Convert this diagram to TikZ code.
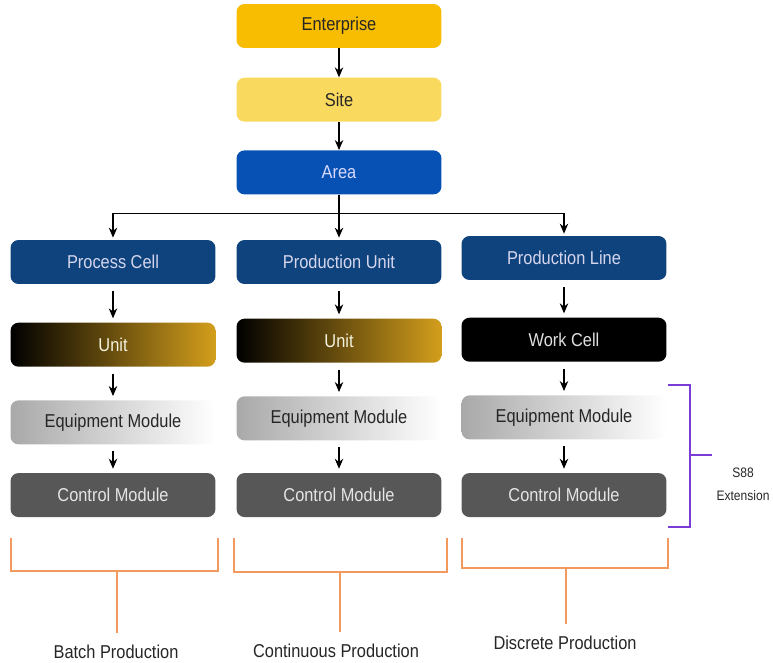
\documentclass[tikz,border=0pt]{standalone}
\usepackage{fontspec}
\setmainfont{Liberation Sans}[FakeStretch=0.88]
\usepackage{tikz}
\usetikzlibrary{arrows.meta, positioning, calc}
\definecolor{entgold}{HTML}{F8BC00}
\definecolor{siteyellow}{HTML}{FADA5E}
\definecolor{areablue}{HTML}{0651B3}
\definecolor{cellblue}{HTML}{0E437E}
\definecolor{unitgold}{HTML}{D39E1C}
\definecolor{eqgray}{HTML}{A9A9A9}
\definecolor{ctrlgray}{HTML}{575757}
\definecolor{brkorange}{HTML}{F29A5E}
\definecolor{s88purple}{HTML}{7A3BD6}

\begin{document}
\begin{tikzpicture}[
  x=0.02cm, y=-0.02cm,
  node distance=0.58cm,
  lvl/.style={rectangle, rounded corners=0.16cm, inner sep=0pt,
    minimum width=4.1cm, minimum height=0.88cm, align=center,
    font=\fontsize{10.6}{12}\selectfont},
  entbox/.style={lvl, fill=entgold, text=black!85},
  sitebox/.style={lvl, fill=siteyellow, text=black!85},
  areabox/.style={lvl, fill=areablue, text=blue!15},
  cellbox/.style={lvl, fill=cellblue, text=blue!10!white!85!gray},
  unitbox/.style={lvl, left color=black, right color=unitgold, text=yellow!10!white!90!gray},
  wcbox/.style={lvl, fill=black, text=white!88!black},
  eqbox/.style={lvl, left color=eqgray, right color=white, text=black!85},
  ctrlbox/.style={lvl, fill=ctrlgray, text=white!90!black},
  arr/.style={-{Stealth[length=2mm, width=1.7mm]}, semithick},
  colarr/.style={arr, shorten <=0.13cm, shorten >=0.08cm},
  brk/.style={draw=brkorange, line width=1.3pt},
  s88line/.style={draw=s88purple, line width=0.9pt},
  lbl/.style={font=\fontsize{10.6}{12}\selectfont, text=black!85, inner sep=0pt},
]
  \useasboundingbox (0,0) rectangle (773,662);

  % Top chain
  \node[entbox] (ent) at (339,26) {Enterprise};
  \node[sitebox, below=of ent] (site) {Site};
  \node[areabox, below=0.56cm of site] (area) {Area};

  \draw[arr] (ent) -- (site);
  \draw[arr] (site) -- (area);

  % Columns
  \node[cellbox] (pcell) at (113,262) {Process Cell};
  \node[cellbox] (punit) at (339,262) {Production Unit};
  \node[cellbox] (pline) at (564,258) {Production Line};

  \draw[arr] (area.south) -- ++(0,19) -| ([yshift=0.04cm]pcell.north);
  \draw[arr] (area.south) -- ([yshift=0.04cm]punit.north);
  \draw[arr] (area.south) -- ++(0,19) -| ([yshift=0.04cm]pline.north);

  % Batch column
  \node[unitbox, below=0.76cm of pcell] (unitA) {Unit};
  \node[eqbox, below=0.66cm of unitA] (eqA) {Equipment Module};
  \node[ctrlbox, below=0.56cm of eqA] (ctrlA) {Control Module};

  % Continuous column
  \node[unitbox, below=0.68cm of punit] (unitB) {Unit};
  \node[eqbox, below=0.66cm of unitB] (eqB) {Equipment Module};
  \node[ctrlbox, below=0.64cm of eqB] (ctrlB) {Control Module};

  % Discrete column
  \node[wcbox, below=0.74cm of pline] (wcell) {Work Cell};
  \node[eqbox, below=0.66cm of wcell] (eqC) {Equipment Module};
  \node[ctrlbox, below=0.66cm of eqC] (ctrlC) {Control Module};

  \draw[colarr] (pcell) -- (unitA);
  \draw[colarr] (unitA) -- (eqA);
  \draw[colarr] (eqA) -- (ctrlA);
  \draw[colarr] (punit) -- (unitB);
  \draw[colarr] (unitB) -- (eqB);
  \draw[colarr] (eqB) -- (ctrlB);
  \draw[colarr] (pline) -- (wcell);
  \draw[colarr] (wcell) -- (eqC);
  \draw[colarr] (eqC) -- (ctrlC);

  % S88 extension bracket
  \draw[s88line] (668,385) -- (690,385) -- (690,527) -- (668,527);
  \draw[s88line] (690,455) -- (712,455);
  \node[lbl, font=\fontsize{7.8}{13}\selectfont, align=center] (s88) at (743,484) {S88\\Extension};

  % Production type brackets
  \node[lbl] (batch) at (116,652) {Batch Production};
  \node[lbl] (cont) at (336,651) {Continuous Production};
  \node[lbl] (disc) at (565,643) {Discrete Production};

  \draw[brk] (11,538) -- (11,571) -- (218,571) -- (218,538);
  \coordinate (bA) at (117,571);
  \draw[brk, shorten >=0.24cm] (bA) -- (bA |- batch.north);

  \draw[brk] (234,538) -- (234,572) -- (447,572) -- (447,538);
  \coordinate (bB) at (340,572);
  \draw[brk, shorten >=0.24cm] (bB) -- (bB |- cont.north);

  \draw[brk] (462,538) -- (462,568) -- (668,568) -- (668,538);
  \coordinate (bC) at (566,568);
  \draw[brk, shorten >=0.24cm] (bC) -- (bC |- disc.north);
\end{tikzpicture}
\end{document}
